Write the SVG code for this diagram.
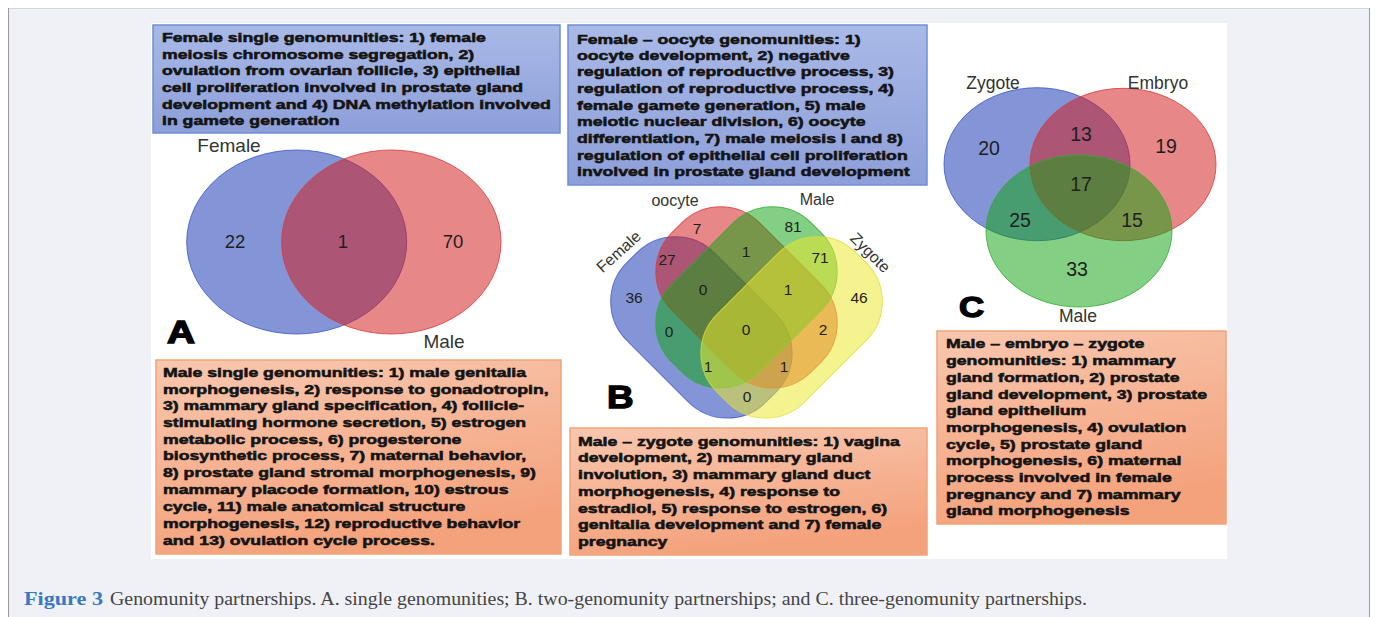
<svg xmlns="http://www.w3.org/2000/svg" width="1375" height="617" viewBox="0 0 1375 617">
<defs>
<linearGradient id="gBlue" x1="0" y1="0" x2="0" y2="1">
<stop offset="0" stop-color="#a9b9e7"/><stop offset="1" stop-color="#8d9fd9"/>
</linearGradient>
<linearGradient id="gOrange" x1="0" y1="0" x2="0.3" y2="1">
<stop offset="0" stop-color="#f8c7af"/><stop offset="1" stop-color="#f4a27c"/>
</linearGradient>
<style>
.bt{font-family:"Liberation Sans",Arial,sans-serif;font-weight:bold;font-size:13px;fill:#141414;stroke:#141414;stroke-width:0.55}
.boxB{fill:url(#gBlue);stroke:#6f8fd6;stroke-width:1.5}
.boxO{fill:url(#gOrange);stroke:#f0a47a;stroke-width:1.5}
.lbl{font-family:"Liberation Sans",Arial,sans-serif;fill:#333}
.num{font-family:"Liberation Sans",Arial,sans-serif;fill:#1e1e1e;text-anchor:middle}
.big{font-family:"Liberation Sans",Arial,sans-serif;font-weight:bold;fill:#000;stroke:#000;stroke-width:1.4}
.vb{fill:rgb(20,55,180);fill-opacity:0.53;stroke:rgb(60,85,200);stroke-opacity:0.8;stroke-width:1}
.vr{fill:rgb(210,28,28);fill-opacity:0.53;stroke:rgb(215,60,60);stroke-opacity:0.8;stroke-width:1}
.vg{fill:rgb(20,165,20);fill-opacity:0.53;stroke:rgb(50,170,50);stroke-opacity:0.8;stroke-width:1}
.vy{fill:rgb(236,232,45);fill-opacity:0.53;stroke:rgb(225,220,50);stroke-opacity:0.8;stroke-width:1}
</style>
</defs>
<rect x="0" y="0" width="1375" height="617" fill="#ffffff"/>
<rect x="8" y="8" width="1361" height="609" fill="#f0f1f7"/>
<line x1="8" y1="8.5" x2="1369" y2="8.5" stroke="#d6d7dc" stroke-width="1"/>
<line x1="8.5" y1="8" x2="8.5" y2="617" stroke="#9a9a9e" stroke-width="1"/>
<line x1="1369.5" y1="8" x2="1369.5" y2="617" stroke="#9a9a9e" stroke-width="1"/>
<rect x="151" y="23" width="1076" height="536" fill="#ffffff"/>

<g id="venn-a">
<ellipse class="vb" cx="296.7" cy="242" rx="110" ry="92"/>
<ellipse class="vr" cx="391.3" cy="242" rx="109.7" ry="92"/>
<text class="lbl" x="229" y="152" font-size="19" text-anchor="middle">Female</text>
<text class="lbl" x="444" y="348" font-size="19" text-anchor="middle">Male</text>
<text class="num" x="235" y="248" font-size="18.5">22</text>
<text class="num" x="343" y="248" font-size="18.5">1</text>
<text class="num" x="453" y="248" font-size="18.5">70</text>
<text class="big" font-size="31" transform="translate(167 343) scale(1.25 1)">A</text>
</g>

<g id="venn-b">
<rect class="vb" x="602.9" y="265.4" width="197" height="124" rx="55" ry="55" transform="rotate(45 701.4 327.4)"/>
<rect class="vr" x="648" y="235.4" width="197" height="124" rx="55" ry="55" transform="rotate(45 746.5 297.4)"/>
<rect class="vg" x="648" y="235.4" width="197" height="124" rx="55" ry="55" transform="rotate(-45 746.5 297.4)"/>
<rect class="vy" x="693.1" y="265.4" width="197" height="124" rx="55" ry="55" transform="rotate(-45 791.6 327.4)"/>
<text class="lbl" x="619" y="257" font-size="16" text-anchor="middle" transform="rotate(-42 619 252)">Female</text>
<text class="lbl" x="675" y="206" font-size="16" text-anchor="middle">oocyte</text>
<text class="lbl" x="817" y="205" font-size="16" text-anchor="middle">Male</text>
<text class="lbl" x="870" y="258" font-size="16" text-anchor="middle" transform="rotate(45 870 253)">Zygote</text>
<g font-size="15.5">
<text class="num" x="697" y="234">7</text>
<text class="num" x="793" y="232">81</text>
<text class="num" x="667" y="265">27</text>
<text class="num" x="746" y="257">1</text>
<text class="num" x="820" y="263">71</text>
<text class="num" x="634" y="303">36</text>
<text class="num" x="703" y="295">0</text>
<text class="num" x="788" y="295">1</text>
<text class="num" x="859" y="303">46</text>
<text class="num" x="669" y="337">0</text>
<text class="num" x="746" y="335">0</text>
<text class="num" x="823" y="335">2</text>
<text class="num" x="708" y="372">1</text>
<text class="num" x="784" y="372">1</text>
<text class="num" x="747" y="402">0</text>
</g>
<text class="big" font-size="32" transform="translate(607 408) scale(1.15 1)">B</text>
</g>

<g id="venn-c">
<ellipse class="vb" cx="1037" cy="164.2" rx="93" ry="76.5"/>
<ellipse class="vr" cx="1123" cy="164.5" rx="93" ry="76.2"/>
<ellipse class="vg" cx="1079" cy="231" rx="93" ry="76"/>
<text class="lbl" x="993" y="89" font-size="17.5" text-anchor="middle">Zygote</text>
<text class="lbl" x="1158" y="89" font-size="17.5" text-anchor="middle">Embryo</text>
<text class="lbl" x="1078" y="322" font-size="17.5" text-anchor="middle">Male</text>
<g font-size="19.5">
<text class="num" x="989" y="155">20</text>
<text class="num" x="1081" y="141">13</text>
<text class="num" x="1166" y="153">19</text>
<text class="num" x="1081" y="191">17</text>
<text class="num" x="1020" y="227">25</text>
<text class="num" x="1132" y="227">15</text>
<text class="num" x="1077" y="276">33</text>
</g>
<text class="big" font-size="29" transform="translate(959 317) scale(1.2 1)">C</text>
</g>

<g id="box-female-single">
<rect class="boxB" x="153" y="25" width="407" height="108"/>
<g transform="translate(162 0) scale(1.36 1)">
<text class="bt" x="0" y="42">Female single genomunities: 1) female</text>
<text class="bt" x="0" y="59">meiosis chromosome segregation, 2)</text>
<text class="bt" x="0" y="75.5">ovulation from ovarian follicle, 3) epithelial</text>
<text class="bt" x="0" y="92">cell proliferation involved in prostate gland</text>
<text class="bt" x="0" y="109">development and 4) DNA methylation involved</text>
<text class="bt" x="0" y="125.5">in gamete generation</text>
</g>
</g>

<g id="box-female-oocyte">
<rect class="boxB" x="568" y="25" width="359" height="160"/>
<g transform="translate(577 0) scale(1.36 1)">
<text class="bt" x="0" y="44">Female – oocyte genomunities: 1)</text>
<text class="bt" x="0" y="60">oocyte development, 2) negative</text>
<text class="bt" x="0" y="76.5">regulation of reproductive process, 3)</text>
<text class="bt" x="0" y="93">regulation of reproductive process, 4)</text>
<text class="bt" x="0" y="110">female gamete generation, 5) male</text>
<text class="bt" x="0" y="126.5">meiotic nuclear division, 6) oocyte</text>
<text class="bt" x="0" y="143">differentiation, 7) male meiosis I and 8)</text>
<text class="bt" x="0" y="160">regulation of epithelial cell proliferation</text>
<text class="bt" x="0" y="176.5">involved in prostate gland development</text>
</g>
</g>

<g id="box-male-single">
<rect class="boxO" x="156" y="360" width="405" height="194"/>
<g transform="translate(163 0) scale(1.36 1)">
<text class="bt" x="0" y="377">Male single genomunities: 1) male genitalia</text>
<text class="bt" x="0" y="394">morphogenesis, 2) response to gonadotropin,</text>
<text class="bt" x="0" y="410.5">3) mammary gland specification, 4) follicle-</text>
<text class="bt" x="0" y="427">stimulating hormone secretion, 5) estrogen</text>
<text class="bt" x="0" y="444">metabolic process, 6) progesterone</text>
<text class="bt" x="0" y="460.5">biosynthetic process, 7) maternal behavior,</text>
<text class="bt" x="0" y="477">8) prostate gland stromal morphogenesis, 9)</text>
<text class="bt" x="0" y="494">mammary placode formation, 10) estrous</text>
<text class="bt" x="0" y="511">cycle, 11) male anatomical structure</text>
<text class="bt" x="0" y="528">morphogenesis, 12) reproductive behavior</text>
<text class="bt" x="0" y="545">and 13) ovulation cycle process.</text>
</g>
</g>

<g id="box-male-zygote">
<rect class="boxO" x="570" y="428" width="357" height="127"/>
<g transform="translate(578 0) scale(1.36 1)">
<text class="bt" x="0" y="446">Male – zygote genomunities: 1) vagina</text>
<text class="bt" x="0" y="462">development, 2) mammary gland</text>
<text class="bt" x="0" y="479">involution, 3) mammary gland duct</text>
<text class="bt" x="0" y="496">morphogenesis, 4) response to</text>
<text class="bt" x="0" y="513">estradiol, 5) response to estrogen, 6)</text>
<text class="bt" x="0" y="529.5">genitalia development and 7) female</text>
<text class="bt" x="0" y="546">pregnancy</text>
</g>
</g>

<g id="box-male-embryo-zygote">
<rect class="boxO" x="937" y="331" width="289" height="193"/>
<g transform="translate(946 0) scale(1.36 1)">
<text class="bt" x="0" y="348">Male – embryo – zygote</text>
<text class="bt" x="0" y="365">genomunities: 1) mammary</text>
<text class="bt" x="0" y="382">gland formation, 2) prostate</text>
<text class="bt" x="0" y="399">gland development, 3) prostate</text>
<text class="bt" x="0" y="415.5">gland epithelium</text>
<text class="bt" x="0" y="432">morphogenesis, 4) ovulation</text>
<text class="bt" x="0" y="449">cycle, 5) prostate gland</text>
<text class="bt" x="0" y="465.5">morphogenesis, 6) maternal</text>
<text class="bt" x="0" y="482">process involved in female</text>
<text class="bt" x="0" y="499">pregnancy and 7) mammary</text>
<text class="bt" x="0" y="515">gland morphogenesis</text>
</g>
</g>

<g id="caption" font-family="'Liberation Serif','Times New Roman',serif" font-size="18.5">
<text x="24" y="605" font-weight="bold" fill="#3a78c0" textLength="79" lengthAdjust="spacingAndGlyphs">Figure 3</text>
<text x="110" y="605" fill="#444" textLength="977" lengthAdjust="spacingAndGlyphs">Genomunity partnerships. A. single genomunities; B. two-genomunity partnerships; and C. three-genomunity partnerships.</text>
</g>
</svg>
